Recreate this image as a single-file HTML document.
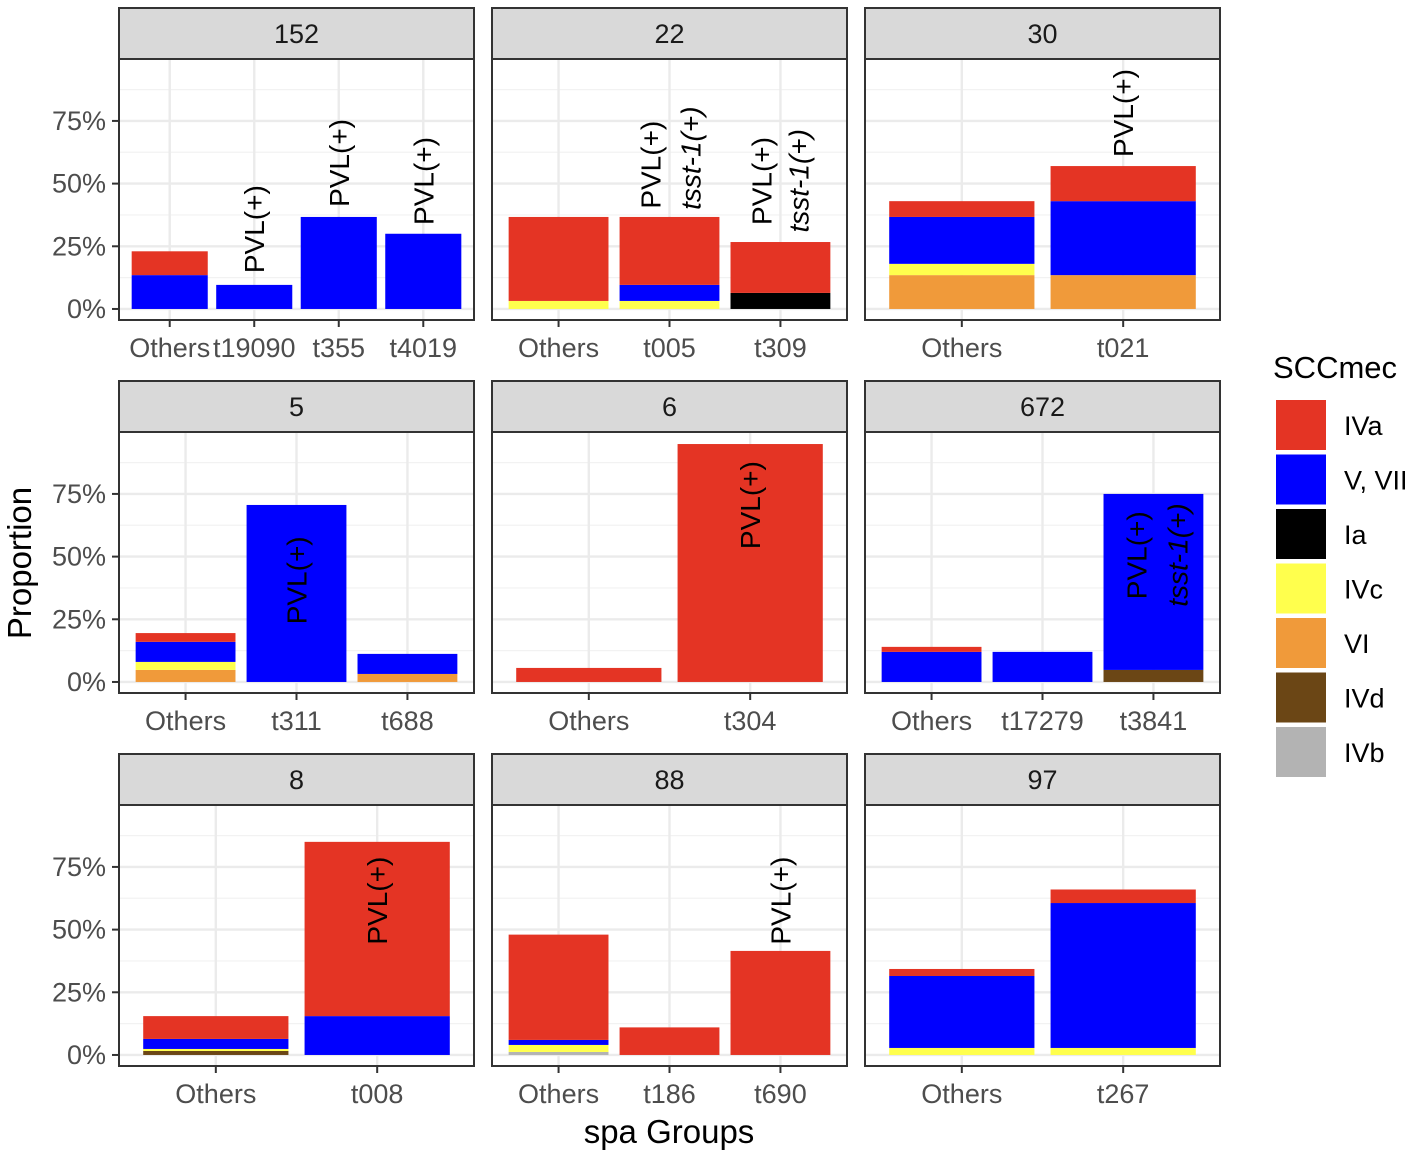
<!DOCTYPE html>
<html><head><meta charset="utf-8"><style>
html,body{margin:0;padding:0;background:#fff}
svg{display:block;font-family:"Liberation Sans",Arial,sans-serif}
</style></head><body>
<svg id="chart" width="1417" height="1156" viewBox="0 0 1417 1156"></svg>
<script>
const panelNames = ["152","22","30","5","6","672","8","88","97"];
const panelCats = [
  ["Others","t19090","t355","t4019"],
  ["Others","t005","t309"],
  ["Others","t021"],
  ["Others","t311","t688"],
  ["Others","t304"],
  ["Others","t17279","t3841"],
  ["Others","t008"],
  ["Others","t186","t690"],
  ["Others","t267"]
];
const typeNames = ["IVa","V, VII","Ia","IVc","VI","IVd","IVb"];
const typeColors = ["#e43424","#0000ff","#000000","#ffff4d","#f09a3a","#6b4615","#b3b3b3"];
const stackOrder = ["IVb","IVd","VI","Ia","IVc","V, VII","IVa"]; // bottom to top
// values per panel, per category: [IVa, V/VII, Ia, IVc, VI, IVd, IVb]
const values = [
  [[0.095,0.135,0,0,0,0,0],[0,0.096,0,0,0,0,0],[0,0.367,0,0,0,0,0],[0,0.30,0,0,0,0,0]],
  [[0.335,0,0,0.032,0,0,0],[0.271,0.064,0,0.032,0,0,0],[0.203,0,0.064,0,0,0,0]],
  [[0.063,0.187,0,0.045,0.135,0,0],[0.14,0.295,0,0,0.135,0,0]],
  [[0.035,0.08,0,0.032,0.048,0,0],[0,0.706,0,0,0,0,0],[0,0.08,0,0,0.032,0,0]],
  [[0.056,0,0,0,0,0,0],[0.949,0,0,0,0,0,0]],
  [[0.02,0.12,0,0,0,0,0],[0,0.12,0,0,0,0,0],[0,0.702,0,0,0,0.048,0]],
  [[0.091,0.04,0,0.008,0,0.016,0],[0.695,0.155,0,0,0,0,0]],
  [[0.42,0.02,0,0.028,0,0,0.012],[0.11,0,0,0,0,0,0],[0.415,0,0,0,0,0,0]],
  [[0.028,0.287,0,0.028,0,0,0],[0.054,0.578,0,0.028,0,0,0]]
];
const yTickVals = [0,0.25,0.5,0.75];
const yTickLabels = ["0%","25%","50%","75%"];
const labelPanel = [0,0,0,1,1,1,1,2,3,4,5,5,6,7];
const labelCat   = [1,2,3,1,1,2,2,1,1,1,2,2,1,2];
const labelText  = ["PVL(+)","PVL(+)","PVL(+)","PVL(+)","tsst-1(+)","PVL(+)","tsst-1(+)","PVL(+)","PVL(+)","PVL(+)","PVL(+)","tsst-1(+)","PVL(+)","PVL(+)"];
const labelY     = [0.143,0.407,0.335,0.40,0.395,0.335,0.305,0.606,0.23,0.53,0.33,0.30,0.44,0.44];
const labelDx    = [0,0,0,-19,21,-19,18,0,0,0,-17,24,0,0];

const NS="http://www.w3.org/2000/svg";
const svg=document.getElementById("chart");
function el(tag,attrs,parent){const e=document.createElementNS(NS,tag);for(const k in attrs)e.setAttribute(k,attrs[k]);(parent||svg).appendChild(e);return e;}

const colX=[119,492,865], colW=355;
const rowStrip=[8,381,754], stripH=51, plotH=261;
const yMin=-0.044, yMax=0.997;

panelNames.forEach((pn,pi)=>{
  const c=pi%3, r=Math.floor(pi/3);
  const x0=colX[c], top=rowStrip[r]+stripH, bot=top+plotH;
  const g=el("g",{});
  
  
  const ys=v=>bot-(v-yMin)/(yMax-yMin)*plotH;
  const cats=panelCats[pi], n=cats.length;
  const unit=colW/(n-1+1.2);
  const xs=i=>x0+(i+0.6)*unit;
  el("rect",{x:x0,y:top,width:colW,height:plotH,fill:"#fff"},g);
  for(let v=0.125;v<1;v+=0.25){el("line",{x1:x0,x2:x0+colW,y1:ys(v),y2:ys(v),stroke:"#f2f2f2","stroke-width":1.2},g);}
  yTickVals.forEach(v=>el("line",{x1:x0,x2:x0+colW,y1:ys(v),y2:ys(v),stroke:"#ebebeb","stroke-width":2.4},g));
  cats.forEach((cn,i)=>el("line",{x1:xs(i),x2:xs(i),y1:top,y2:bot,stroke:"#ebebeb","stroke-width":2.4},g));
  cats.forEach((cn,i)=>{
    let cum=0;
    stackOrder.forEach(t=>{
      const ti=typeNames.indexOf(t), v=values[pi][i][ti];
      if(v<=0)return;
      const b=el("rect",{x:xs(i)-0.45*unit,width:0.9*unit,y:ys(cum+v),height:ys(cum)-ys(cum+v),fill:typeColors[ti]},g);
      
      
      cum+=v;
    });
  });
  el("rect",{x:x0,y:top,width:colW,height:plotH,fill:"none",stroke:"#333","stroke-width":2},g);
  const s=el("rect",{x:x0,y:rowStrip[r],width:colW,height:stripH,fill:"#d9d9d9",stroke:"#333","stroke-width":2},g);
  
  
  const st=el("text",{x:x0+colW/2,y:rowStrip[r]+35,"text-anchor":"middle","font-size":27,fill:"#1a1a1a"},g);
  st.textContent=pn;
  
  
  cats.forEach((cn,i)=>{
    el("line",{x1:xs(i),x2:xs(i),y1:bot,y2:bot+7,stroke:"#333","stroke-width":2},g);
    const t=el("text",{x:xs(i),y:bot+37,"text-anchor":"middle","font-size":27,fill:"#4d4d4d"},g);
    t.textContent=cn;
    
    
  });
  if(c===0){
    yTickVals.forEach((v,k)=>{
      el("line",{x1:x0-7,x2:x0,y1:ys(v),y2:ys(v),stroke:"#333","stroke-width":2},g);
      const t=el("text",{x:x0-13,y:ys(v)+9,"text-anchor":"end","font-size":27,fill:"#4d4d4d"},g);
      t.textContent=yTickLabels[k];
      
      
    });
  }
  labelPanel.forEach((lp,li)=>{
    if(lp!==pi)return;
    const lx=xs(labelCat[li])+labelDx[li]+10, ly=ys(labelY[li]);
    const t=el("text",{x:0,y:0,transform:`translate(${lx},${ly}) rotate(-90)`,"font-size":28,fill:"#000","font-style":labelText[li].startsWith("tsst")?"italic":"normal"},g);
    t.textContent=labelText[li];
    
    
  });
});

const yt=el("text",{x:0,y:0,transform:"translate(31,563) rotate(-90)","text-anchor":"middle","font-size":33,fill:"#000"});
yt.textContent="Proportion";


const xt=el("text",{x:669,y:1143,"text-anchor":"middle","font-size":33,fill:"#000"});
xt.textContent="spa Groups";



const lg=el("g",{});


const ltt=el("text",{x:1273,y:378,"font-size":31,fill:"#000"},lg);
ltt.textContent="SCCmec";


typeNames.forEach((t,i)=>{
  const y=400+i*54.5;
  const k=el("rect",{x:1276,y:y,width:50,height:50,fill:typeColors[i]},lg);
  
  
  const tx=el("text",{x:1344,y:y+35,"font-size":27,fill:"#000"},lg);
  tx.textContent=t;
  
  
});
</script>
</body></html>
